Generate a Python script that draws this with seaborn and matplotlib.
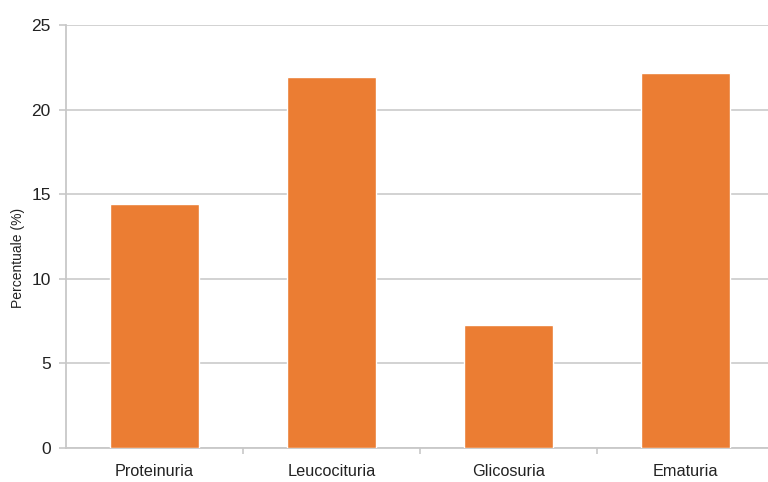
import matplotlib
matplotlib.use("Agg")
import matplotlib.pyplot as plt
import seaborn as sns
import pandas as pd
import numpy as np

categories = ["Proteinuria", "Leucocituria", "Glicosuria", "Ematuria"]
values = [14.45, 21.9, 7.25, 22.15]
yticks = [0, 5, 10, 15, 20, 25]

sns.set_style("white")
plt.rcParams['font.family'] = ['Liberation Sans', 'DejaVu Sans']

df = pd.DataFrame({"cat": categories, "val": values})

fig = plt.figure(figsize=(7.68, 4.82), dpi=100)
ax = fig.add_axes([66/768, 34/482, 708/768, 423/482])

sns.barplot(data=df, x="cat", y="val", color="#EB7D33", saturation=1,
            width=0.5, ax=ax, zorder=3)

ax.set_xlim(-0.5, 3.5)
ax.set_ylim(0, 25)
ax.set_yticks(yticks)
ax.set_yticklabels([str(t) for t in yticks], fontsize=12.5, color="#222222")
ax.yaxis.grid(True, color="#cfcfcf", linewidth=1.3, zorder=0)
ax.set_axisbelow(True)

for s in ["top", "right"]:
    ax.spines[s].set_visible(False)
for s in ["left", "bottom"]:
    ax.spines[s].set_color("#c8c8c8")
    ax.spines[s].set_linewidth(1.3)

ax.tick_params(axis="y", which="major", left=True, length=5, width=1.2,
               color="#c8c8c8", pad=6)
ax.tick_params(axis="x", which="major", bottom=False, labelsize=11.7, pad=8,
               labelcolor="#222222")
ax.set_xticks(np.arange(len(categories)))
ax.set_xticklabels(categories)
ax.set_xticks([0.5, 1.5, 2.5], minor=True)
ax.tick_params(axis="x", which="minor", bottom=True, length=4, width=1.2,
               color="#c8c8c8")

ax.set_xlabel("")
ax.set_ylabel("")
fig.text(18/768, 1 - 258/482, "Percentuale (%)", rotation=90, fontsize=10,
         color="#222222", ha="center", va="center")

fig.savefig("out.png", dpi=100)
